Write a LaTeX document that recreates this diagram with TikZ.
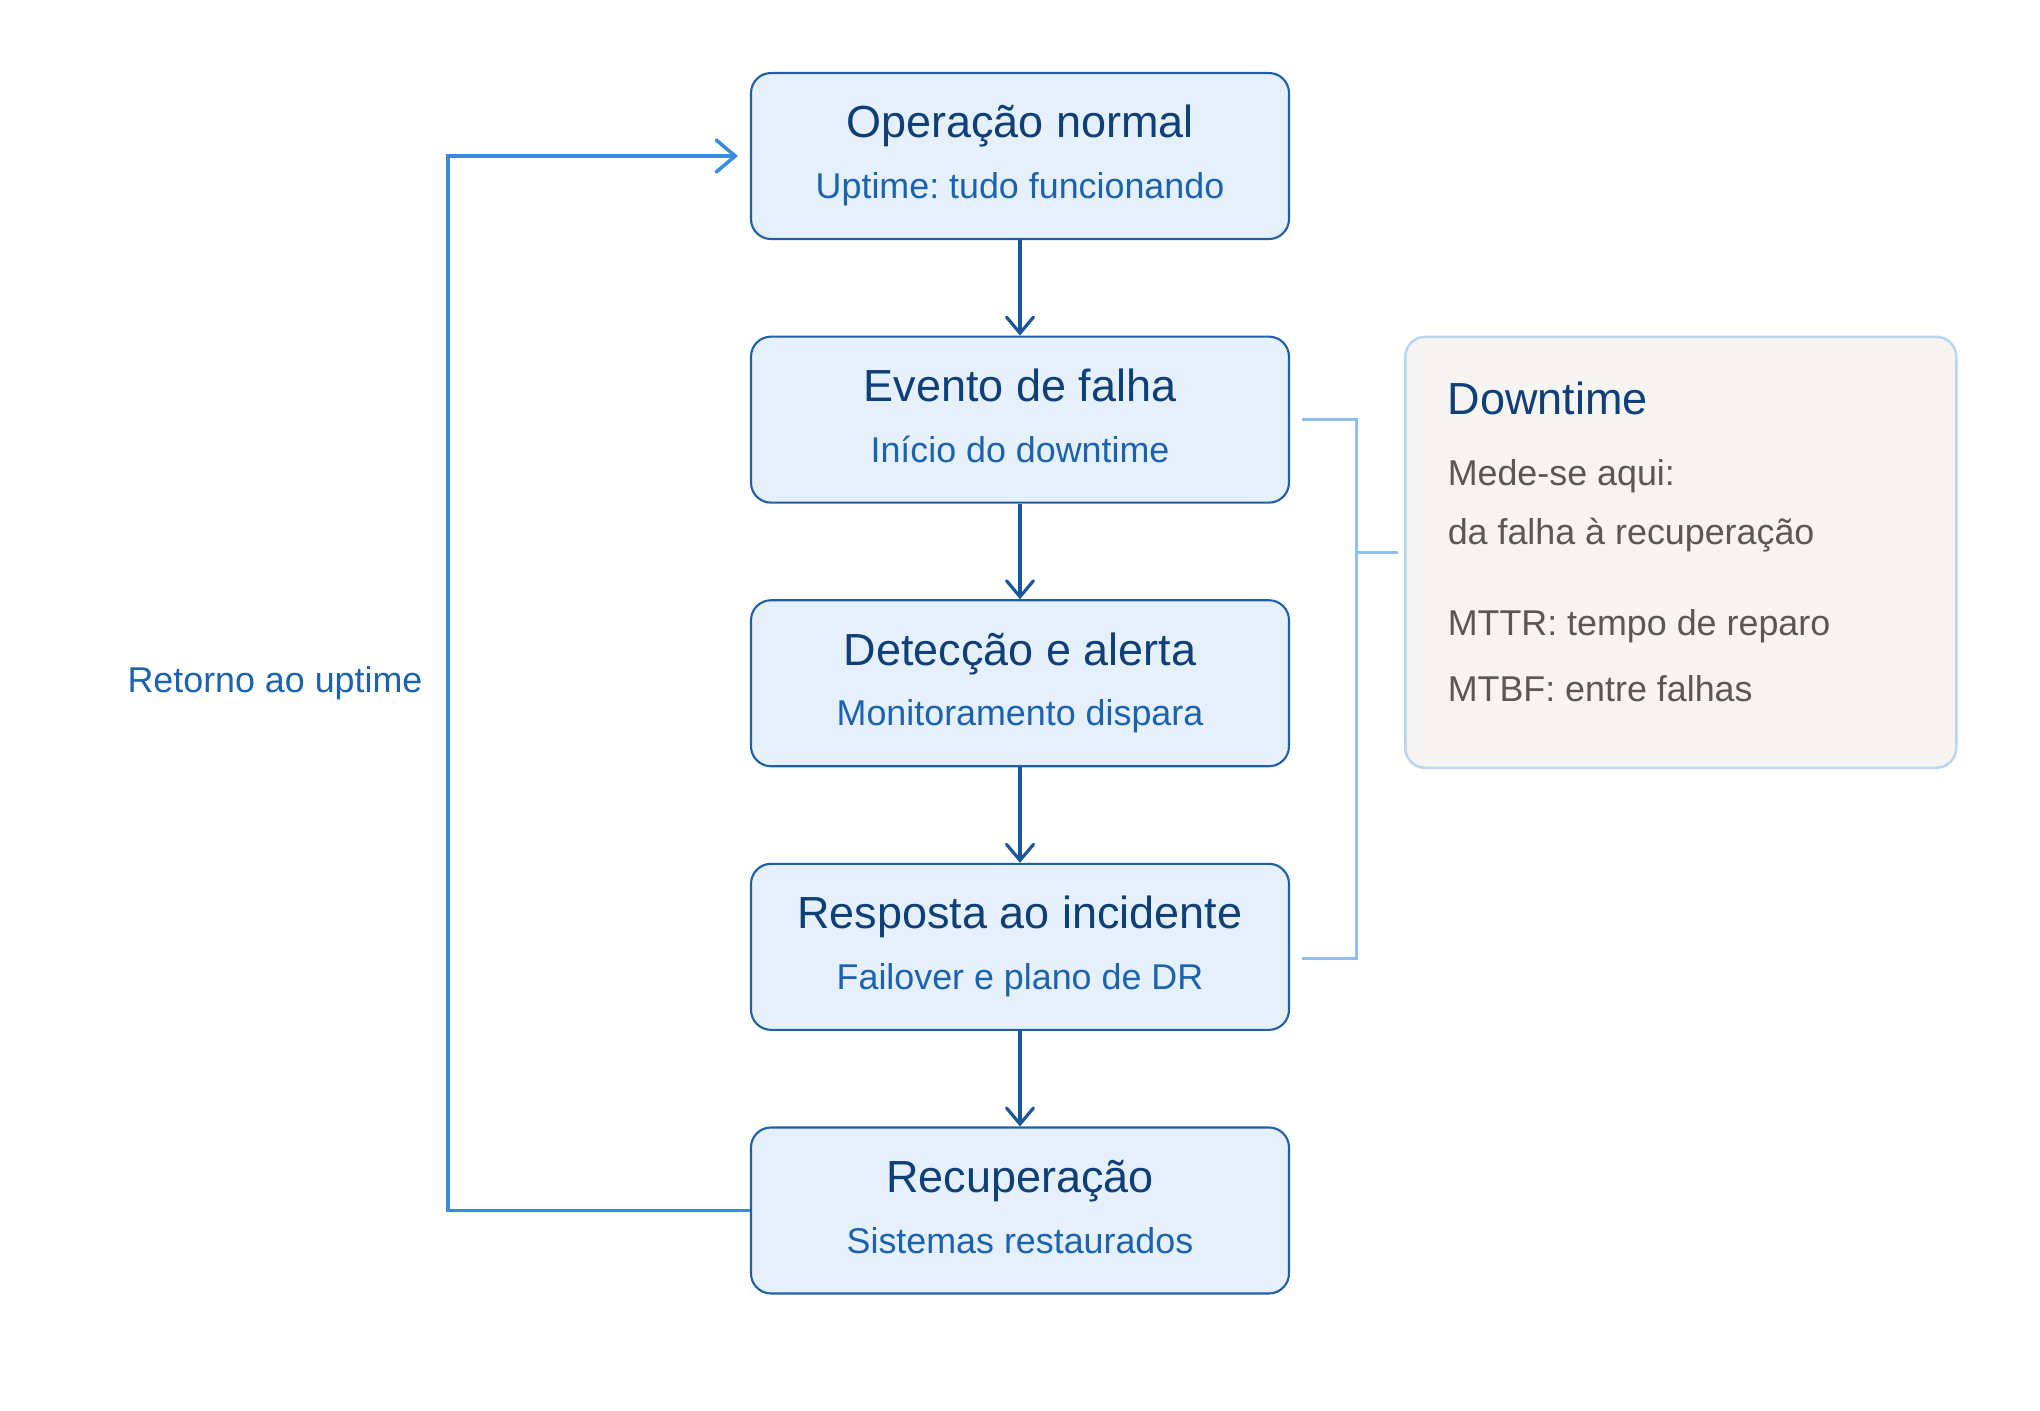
\documentclass[tikz,border=0pt]{standalone}
\usepackage{fontspec}
\setmainfont{Liberation Sans}
\usepackage{xcolor}
\usepackage{tikz}
\usetikzlibrary{arrows.meta,positioning,calc}
\frenchspacing
\definecolor{uptimeNavy}{HTML}{0F3F78}
\definecolor{uptimeBlue}{HTML}{1B63AE}
\definecolor{uptimeEdge}{HTML}{1F5FA5}
\definecolor{uptimeFill}{HTML}{E5F0FB}
\definecolor{uptimeArrow}{HTML}{1A5699}
\definecolor{uptimeLoop}{HTML}{3A8BE0}
\definecolor{uptimeBracket}{HTML}{8FBFEE}
\definecolor{uptimeNoteFill}{HTML}{F5F4F0}
\definecolor{uptimeNoteEdge}{HTML}{B9D5F2}
\definecolor{uptimeGray}{HTML}{5B5752}
\newcommand{\stagetext}[2]{%
  {\color{uptimeNavy}\fontsize{12.8}{17.3}\selectfont\rule{0pt}{10pt}#1}\\%
  {\color{uptimeBlue}\rule[-3pt]{0pt}{3pt}#2}}
\tikzset{
  stage/.style={
    rectangle,
    rounded corners=2mm,
    draw=uptimeEdge,
    fill=uptimeFill,
    line width=0.6pt,
    minimum width=5.38cm,
    minimum height=1.66cm,
    align=center,
    font=\fontsize{10.2}{17.3}\selectfont
  },
  stageArrow/.style={
    -{Straight Barb[length=1.6mm,width=2.7mm,line cap=round]},
    line width=0.9pt,
    draw=uptimeArrow
  },
  loopArrow/.style={
    -{Straight Barb[length=1.9mm,width=3.2mm,line cap=round]},
    line width=1pt,
    draw=uptimeLoop
  },
  loopLabel/.style={
    text=uptimeBlue,
    font=\fontsize{10.2}{12}\selectfont
  },
  noteBox/.style={
    rectangle,
    rounded corners=2mm,
    draw=uptimeNoteEdge,
    fill=uptimeNoteFill,
    line width=0.7pt,
    minimum width=5.51cm,
    minimum height=4.31cm
  },
  noteTitle/.style={
    anchor=base west,
    inner sep=0pt,
    text=uptimeNavy,
    font=\fontsize{12.8}{15}\selectfont
  },
  noteText/.style={
    anchor=base west,
    inner sep=0pt,
    text=uptimeGray,
    font=\fontsize{10.2}{12}\selectfont
  },
  bracketLine/.style={
    line width=0.85pt,
    draw=uptimeBracket
  }
}

\begin{document}
\begin{tikzpicture}[node distance=0.955cm]
  \useasboundingbox (0,0) rectangle (20.4,-14.1);
  \node[stage] (oper) at (10.2,-1.56) {\stagetext{Operação normal}{Uptime: tudo funcionando}};
  \node[stage,below=of oper] (evento) {\stagetext{Evento de falha}{Início do downtime}};
  \node[stage,below=of evento] (deteccao) {\stagetext{Detecção e alerta}{Monitoramento dispara}};
  \node[stage,below=of deteccao] (resposta) {\stagetext{Resposta ao incidente}{Failover e plano de DR}};
  \node[stage,below=of resposta] (recup) {\stagetext{Recuperação}{Sistemas restaurados}};
  \draw[stageArrow] (oper) -- (evento);
  \draw[stageArrow] (evento) -- (deteccao);
  \draw[stageArrow] (deteccao) -- (resposta);
  \draw[stageArrow] (resposta) -- (recup);
  \draw[loopArrow] (recup.west) -- ++(-3.02,0) |- node[pos=0.25,left=1.2mm,loopLabel] {Retorno ao uptime} ([xshift=-1.2mm]oper.west);
  \node[noteBox,anchor=north west] (downtime) at ([xshift=11.4mm]evento.north east) {};
  \node[noteTitle] (noteHead) at ([xshift=4.3mm,yshift=-7.9mm]downtime.north west) {Downtime};
  \node[noteText] (noteMede) at ([xshift=4.3mm,yshift=-15.0mm]downtime.north west) {Mede-se aqui:};
  \node[noteText] (noteFalha) at ([xshift=4.3mm,yshift=-20.9mm]downtime.north west) {da falha à recuperação};
  \node[noteText] (noteMttr) at ([xshift=4.3mm,yshift=-30.0mm]downtime.north west) {MTTR: tempo de reparo};
  \node[noteText] (noteMtbf) at ([xshift=4.3mm,yshift=-36.6mm]downtime.north west) {MTBF: entre falhas};
  \coordinate (brace) at ([xshift=6.6mm]evento.east);
  \draw[bracketLine] ([xshift=1.2mm]evento.east) -| ([xshift=6.6mm,yshift=-1.2mm]resposta.east) -- ([xshift=1.2mm,yshift=-1.2mm]resposta.east);
  \draw[bracketLine] (brace |- downtime.west) -- ([xshift=-0.6mm]downtime.west);
\end{tikzpicture}
\end{document}
